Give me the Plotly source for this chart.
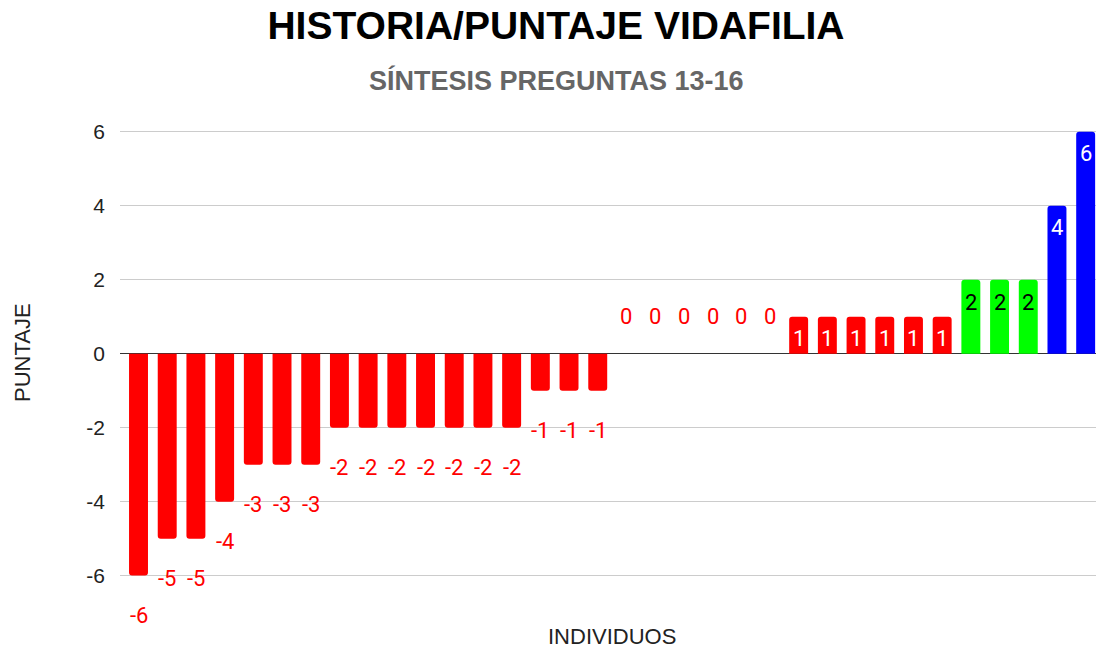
import plotly.graph_objects as go

# Puntaje por individuo (ordenado de menor a mayor)
individuos = list(range(1, 35))
puntajes = [-6, -5, -5, -4, -3, -3, -3,
            -2, -2, -2, -2, -2, -2, -2,
            -1, -1, -1,
            0, 0, 0, 0, 0, 0,
            1, 1, 1, 1, 1, 1,
            2, 2, 2,
            4, 6]
y_ticks = [-6, -4, -2, 0, 2, 4, 6]
y_tick_text = [str(v) for v in y_ticks]

RED, GREEN, BLUE = "#ff0000", "#00ff00", "#0000ff"

# plot area in pixels
PL, PR, PT, PB = 120, 1096, 130, 620


def bar_color(v):
    if v >= 4:
        return BLUE
    if v >= 2:
        return GREEN
    return RED


def label_style(v):
    # (color, vertical offset in px)
    if v < 0:
        return RED, -40
    if v == 0:
        return RED, 37
    if v == 2:
        return "#000000", -23
    return "#ffffff", -22


def px_x(px):
    return (px - PL) / (PR - PL)


def px_y(py):
    return (PB - py) / (PB - PT)


fig = go.Figure(
    go.Bar(
        x=individuos,
        y=puntajes,
        width=0.66,
        marker=dict(color=[bar_color(v) for v in puntajes], cornerradius=3,
                    line=dict(width=0)),
        hoverinfo="x+y",
    )
)

annotations = []
for xi, v in zip(individuos, puntajes):
    col, dy = label_style(v)
    annotations.append(dict(
        x=xi, y=v, xref="x", yref="y", text=str(v), showarrow=False,
        yshift=dy, yanchor="middle", xanchor="center",
        font=dict(family="Roboto", size=22, color=col),
    ))

axis_font = dict(family="Liberation Sans", size=22, color="#222222")
annotations += [
    dict(x=px_x(556), y=px_y(80), xref="paper", yref="paper",
         text="<b>SÍNTESIS PREGUNTAS 13-16</b>", showarrow=False,
         xanchor="center", yanchor="middle",
         font=dict(family="Liberation Sans", size=27, color="#666666")),
    dict(x=px_x(612), y=px_y(636), xref="paper", yref="paper",
         text="INDIVIDUOS", showarrow=False,
         xanchor="center", yanchor="middle", font=axis_font),
    dict(x=px_x(22), y=px_y(353), xref="paper", yref="paper",
         text="PUNTAJE", showarrow=False, textangle=-90,
         xanchor="center", yanchor="middle", font=axis_font),
]

fig.update_layout(
    width=1096, height=651,
    margin=dict(l=PL, r=1096 - PR, t=PT, b=651 - PB),
    paper_bgcolor="white", plot_bgcolor="white",
    showlegend=False,
    bargap=0.3,
    title=dict(
        text="<b>HISTORIA/PUNTAJE VIDAFILIA</b>",
        x=556 / 1096, xanchor="center", y=1 - 25 / 651, yanchor="middle",
        font=dict(family="Liberation Sans", size=39, color="#000000"),
    ),
    annotations=annotations,
    xaxis=dict(
        range=[0.355, 34.36], showticklabels=False, showgrid=False,
        zeroline=False, showline=False, ticks="",
    ),
    yaxis=dict(
        range=[-7.2, 6.05], tickvals=y_ticks, ticktext=y_tick_text, ticks="",
        ticklabelstandoff=14,
        tickfont=dict(family="Liberation Sans", size=21, color="#222222"),
        showgrid=True, gridcolor="#cccccc", gridwidth=1,
        zeroline=True, zerolinecolor="#333333", zerolinewidth=1.2,
        showline=False,
    ),
)

fig.write_html("out.html")
